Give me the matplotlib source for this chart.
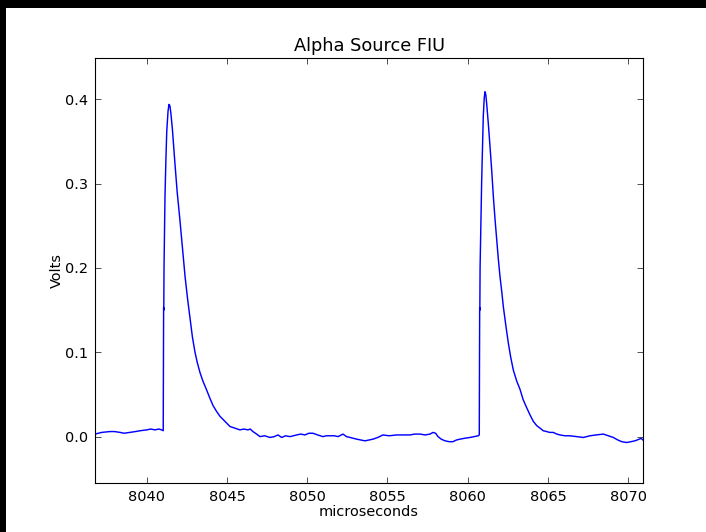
import matplotlib
matplotlib.use("Agg")
import matplotlib.pyplot as plt
from matplotlib.patches import Rectangle

time_us = [
    8036.78, 8037.20, 8037.71, 8038.00, 8038.34, 8038.60, 8038.96, 8039.30, 8039.60,
    8040.00, 8040.25, 8040.52, 8040.75, 8040.93, 8041.03,
    8041.05, 8041.055, 8041.065, 8041.08, 8041.14, 8041.20, 8041.25, 8041.33, 8041.39,
    8041.45, 8041.51, 8041.60, 8041.76, 8041.90, 8042.07, 8042.25, 8042.39, 8042.55,
    8042.70, 8042.85, 8043.01, 8043.15, 8043.32, 8043.50, 8043.74, 8043.95, 8044.13,
    8044.35, 8044.57, 8044.88, 8045.19, 8045.50, 8045.81, 8046.05, 8046.31, 8046.45,
    8046.62, 8046.85, 8047.06, 8047.35, 8047.68, 8047.95, 8048.18, 8048.41, 8048.65,
    8048.93, 8049.35, 8049.60, 8049.86, 8050.10, 8050.36, 8050.65, 8050.98, 8051.20,
    8051.42, 8051.70, 8051.92, 8052.23, 8052.45, 8052.67, 8053.08, 8053.35, 8053.60,
    8053.85, 8054.10, 8054.40, 8054.72, 8055.10, 8055.58, 8056.00, 8056.40, 8056.70,
    8057.03, 8057.35, 8057.65, 8057.84, 8058.00, 8058.15, 8058.35, 8058.59, 8058.85,
    8059.08, 8059.30, 8059.52, 8059.80, 8060.14, 8060.40, 8060.66, 8060.72,
    8060.74, 8060.745, 8060.755, 8060.77, 8060.87, 8060.97, 8061.03, 8061.08,
    8061.13, 8061.18, 8061.28, 8061.39, 8061.50, 8061.60, 8061.70, 8061.81, 8061.91,
    8062.01, 8062.12, 8062.22, 8062.38, 8062.53, 8062.68, 8062.84, 8063.05, 8063.26,
    8063.45, 8063.68, 8063.90, 8064.09, 8064.30, 8064.51, 8064.70, 8064.92, 8065.10,
    8065.33, 8065.55, 8065.75, 8066.05, 8066.37, 8066.80, 8067.20, 8067.40, 8067.62,
    8068.00, 8068.45, 8068.75, 8069.07, 8069.35, 8069.60, 8069.91, 8070.15, 8070.42,
    8070.69, 8070.80, 8070.92,
]
volts = [
    0.003, 0.005, 0.006, 0.006, 0.005, 0.004, 0.005, 0.006, 0.007,
    0.008, 0.009, 0.008, 0.009, 0.008, 0.007,
    0.140, 0.153, 0.150, 0.200, 0.285, 0.330, 0.362, 0.386, 0.394,
    0.392, 0.383, 0.365, 0.324, 0.290, 0.257, 0.220, 0.190, 0.163,
    0.140, 0.118, 0.100, 0.088, 0.076, 0.066, 0.055, 0.045, 0.037,
    0.030, 0.024, 0.018, 0.012, 0.010, 0.008, 0.009, 0.008, 0.009,
    0.006, 0.003, 0.000, 0.001, -0.001, 0.000, 0.002, -0.001, 0.001,
    0.000, 0.002, 0.003, 0.002, 0.004, 0.004, 0.002, 0.000, 0.001,
    0.001, 0.001, 0.000, 0.003, 0.000, -0.001, -0.003, -0.004, -0.005,
    -0.004, -0.003, -0.001, 0.002, 0.001, 0.002, 0.002, 0.002, 0.003,
    0.003, 0.002, 0.003, 0.005, 0.004, 0.000, -0.003, -0.005, -0.006,
    -0.006, -0.004, -0.003, -0.002, -0.001, 0.000, 0.001, 0.002,
    0.140, 0.153, 0.150, 0.200, 0.304, 0.380, 0.402, 0.409,
    0.405, 0.395, 0.372, 0.344, 0.314, 0.284, 0.258, 0.233, 0.210,
    0.190, 0.172, 0.154, 0.131, 0.111, 0.094, 0.079, 0.066, 0.056,
    0.044, 0.034, 0.025, 0.018, 0.013, 0.010, 0.007, 0.006, 0.005,
    0.005, 0.003, 0.002, 0.001, 0.001, 0.000, -0.001, 0.000, 0.001,
    0.002, 0.003, 0.001, -0.001, -0.004, -0.006, -0.007, -0.006, -0.005,
    -0.003, -0.002, -0.004,
]
y_ticks = [0.0, 0.1, 0.2, 0.3, 0.4]
x_ticks = [8040, 8045, 8050, 8055, 8060, 8065, 8070]

plt.rcParams['font.family'] = ['DejaVu Sans']
fig = plt.figure(figsize=(706 / 80, 532 / 80), dpi=80, facecolor='white')
ax = fig.add_axes([95 / 706, 49 / 532, 548 / 706, 425 / 532])

ax.plot(time_us, volts, color='#0000ff', linewidth=1.3)

ax.set_xlim(time_us[0], time_us[-1])
ax.set_ylim(-0.055, 0.449)
ax.set_xticks(x_ticks)
ax.set_yticks(y_ticks)
ax.tick_params(direction='in', top=True, right=True, length=5, width=0.6,
               labelsize=13, pad=6, colors='black')
for s in ax.spines.values():
    s.set_linewidth(1.0)
ax.set_title('Alpha Source FIU', fontsize=16, pad=6)
ax.set_xlabel('microseconds', fontsize=13, labelpad=1)
ax.set_ylabel('Volts', fontsize=13, labelpad=1)

# black screenshot borders
fig.patches.append(Rectangle((0, 1 - 8 / 532), 1, 8 / 532, transform=fig.transFigure,
                             facecolor='black', edgecolor='none', zorder=10))
fig.patches.append(Rectangle((0, 0), 6 / 706, 1, transform=fig.transFigure,
                             facecolor='black', edgecolor='none', zorder=10))

fig.savefig('out.png', dpi=80, facecolor='white')
